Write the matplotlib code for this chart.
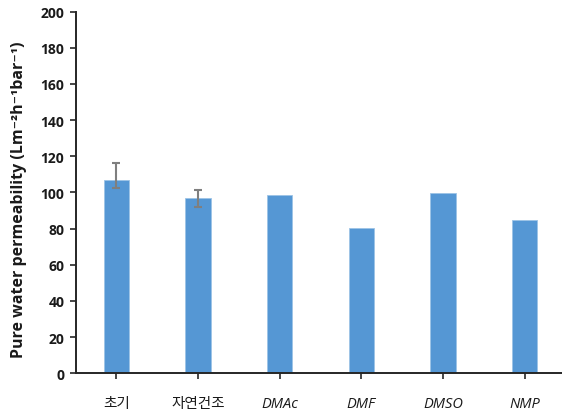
import matplotlib
matplotlib.use("Agg")
import matplotlib.pyplot as plt
import numpy as np

# Pure water permeability per treatment condition
categories = ["초기", "자연건조", "DMAc", "DMF", "DMSO", "NMP"]
permeability = [106.8, 96.8, 98.6, 80.3, 99.7, 84.9]
err_lower = [4.4, 5.0, 0.0, 0.0, 0.0, 0.0]
err_upper = [9.4, 4.5, 0.0, 0.0, 0.0, 0.0]
y_ticks = [0, 20, 40, 60, 80, 100, 120, 140, 160, 180, 200]

fig = plt.figure(figsize=(5.62, 4.10), dpi=100)
ax = fig.add_axes([75.5 / 562, 35.7 / 410, 490 / 562, 361.8 / 410])

x = np.arange(len(categories))
ax.bar(x, permeability, width=0.31, color="#5597D4", edgecolor="#9DC3E6",
       linewidth=0.6, zorder=2)

# error bars only where a spread was measured
has_err = [i for i in range(len(categories)) if err_lower[i] > 0 or err_upper[i] > 0]
ax.errorbar(x[has_err], [permeability[i] for i in has_err],
            yerr=[[err_lower[i] for i in has_err], [err_upper[i] for i in has_err]],
            fmt="none", ecolor="#7F7F7F", elinewidth=1.5, capsize=3.0,
            capthick=1.5, zorder=3)

ax.set_xlim(-0.5, len(categories) - 0.5)
ax.set_ylim(0, 200)
ax.set_yticks(y_ticks)
ax.set_xticks(x)

for side in ("top", "right"):
    ax.spines[side].set_visible(False)
for side in ("left", "bottom"):
    ax.spines[side].set_color("#262626")
    ax.spines[side].set_linewidth(1.4)

ax.tick_params(axis="y", direction="out", length=4, width=1.2, color="#262626",
               pad=4)
ax.tick_params(axis="x", direction="out", length=4, width=1.2, color="#262626",
               pad=12)

ax.set_yticklabels([str(v) for v in y_ticks], family="Open Sans",
                   fontweight="bold", fontsize=10, color="#1a1a1a")
ax.set_xticklabels(categories, family=["Open Sans", "Noto Sans CJK KR"],
                   style="italic", fontsize=10.5, color="#1a1a1a")

ax.set_ylabel("Pure water permeability (Lm\u207b\u00b2h\u207b\u00b9bar\u207b\u00b9)",
              family=["Open Sans", "DejaVu Sans"], fontweight="bold",
              fontsize=11.5, color="#1a1a1a")
ax.yaxis.set_label_coords(-0.098, 0.482)

fig.savefig("out.png", dpi=100)
